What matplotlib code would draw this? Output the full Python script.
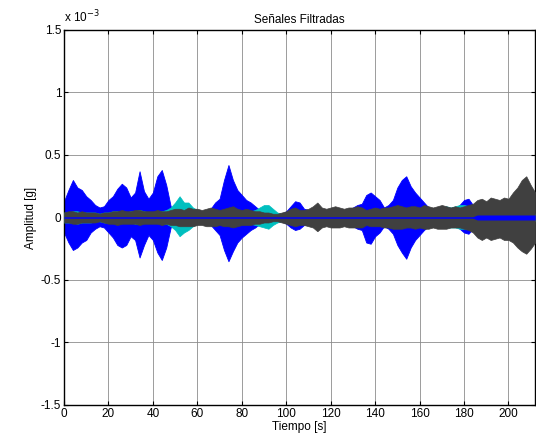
import matplotlib
matplotlib.use("Agg")
import matplotlib.pyplot as plt
import numpy as np

plt.rcParams["font.family"] = ["Liberation Sans", "DejaVu Sans"]

# time grid of the envelope readings [s]
t = np.arange(0, 213, 2)

# envelopes, in units of 1e-3 g
blue_up = [0.13, 0.22, 0.30, 0.24, 0.22, 0.17, 0.14, 0.10, 0.08, 0.09,
           0.14, 0.17, 0.23, 0.27, 0.24, 0.16, 0.20, 0.37, 0.21, 0.15,
           0.20, 0.33, 0.38, 0.26, 0.09, 0.06, 0.07, 0.06, 0.05, 0.06,
           0.05, 0.05, 0.05, 0.07, 0.12, 0.15, 0.30, 0.42, 0.30, 0.22,
           0.18, 0.14, 0.12, 0.09, 0.06, 0.04, 0.03, 0.03, 0.03, 0.03,
           0.05, 0.09, 0.13, 0.12, 0.07, 0.06, 0.05, 0.05, 0.04, 0.05,
           0.06, 0.06, 0.05, 0.05, 0.06, 0.08, 0.10, 0.11, 0.18, 0.20,
           0.17, 0.14, 0.08, 0.10, 0.14, 0.24, 0.30, 0.33, 0.25, 0.20,
           0.16, 0.12, 0.08, 0.07, 0.06, 0.05, 0.08, 0.07, 0.06, 0.10,
           0.14, 0.15, 0.10, 0.02, 0.02, 0.02, 0.02, 0.02, 0.02, 0.02,
           0.02, 0.02, 0.02, 0.02, 0.02, 0.02, 0.02]
blue_lo = [0.12, 0.20, 0.26, 0.24, 0.20, 0.18, 0.12, 0.09, 0.07, 0.08,
           0.12, 0.16, 0.22, 0.24, 0.22, 0.15, 0.18, 0.32, 0.22, 0.14,
           0.18, 0.28, 0.34, 0.24, 0.08, 0.05, 0.06, 0.05, 0.05, 0.05,
           0.04, 0.04, 0.05, 0.06, 0.10, 0.14, 0.26, 0.35, 0.27, 0.20,
           0.16, 0.13, 0.10, 0.08, 0.05, 0.04, 0.03, 0.03, 0.03, 0.03,
           0.05, 0.08, 0.10, 0.09, 0.06, 0.05, 0.05, 0.04, 0.04, 0.04,
           0.05, 0.05, 0.05, 0.05, 0.05, 0.07, 0.09, 0.10, 0.20, 0.21,
           0.15, 0.12, 0.07, 0.09, 0.13, 0.22, 0.28, 0.33, 0.24, 0.18,
           0.14, 0.10, 0.07, 0.06, 0.06, 0.05, 0.07, 0.06, 0.06, 0.09,
           0.12, 0.13, 0.09, 0.02, 0.02, 0.02, 0.02, 0.02, 0.02, 0.02,
           0.02, 0.02, 0.02, 0.02, 0.02, 0.02, 0.02]
cyan_up = [0.04, 0.04, 0.05, 0.05, 0.04, 0.04, 0.04, 0.04, 0.03, 0.04,
           0.04, 0.05, 0.05, 0.04, 0.04, 0.05, 0.05, 0.06, 0.05, 0.04,
           0.04, 0.05, 0.05, 0.06, 0.08, 0.12, 0.17, 0.12, 0.12, 0.08,
           0.06, 0.05, 0.05, 0.05, 0.05, 0.05, 0.06, 0.06, 0.05, 0.05,
           0.05, 0.05, 0.05, 0.06, 0.08, 0.10, 0.10, 0.07, 0.04, 0.03,
           0.04, 0.05, 0.05, 0.05, 0.04, 0.04, 0.04, 0.04, 0.04, 0.04,
           0.04, 0.04, 0.04, 0.04, 0.04, 0.05, 0.05, 0.05, 0.05, 0.06,
           0.05, 0.05, 0.05, 0.05, 0.05, 0.06, 0.06, 0.05, 0.05, 0.05,
           0.06, 0.07, 0.06, 0.05, 0.07, 0.08, 0.09, 0.08, 0.09, 0.10,
           0.10, 0.09, 0.09, 0.08, 0.08, 0.04, 0.03, 0.03, 0.03, 0.03,
           0.03, 0.03, 0.03, 0.03, 0.03, 0.03, 0.03]
cyan_lo = [0.04, 0.04, 0.04, 0.05, 0.04, 0.04, 0.04, 0.03, 0.03, 0.04,
           0.04, 0.04, 0.05, 0.04, 0.04, 0.04, 0.05, 0.05, 0.04, 0.04,
           0.04, 0.04, 0.05, 0.05, 0.07, 0.10, 0.15, 0.12, 0.10, 0.07,
           0.05, 0.05, 0.05, 0.05, 0.04, 0.05, 0.05, 0.05, 0.05, 0.05,
           0.05, 0.05, 0.05, 0.06, 0.07, 0.08, 0.09, 0.06, 0.04, 0.03,
           0.04, 0.04, 0.05, 0.04, 0.04, 0.04, 0.04, 0.04, 0.04, 0.04,
           0.04, 0.04, 0.04, 0.04, 0.04, 0.04, 0.05, 0.05, 0.05, 0.05,
           0.05, 0.05, 0.04, 0.05, 0.05, 0.05, 0.05, 0.05, 0.05, 0.05,
           0.06, 0.07, 0.06, 0.05, 0.06, 0.07, 0.08, 0.08, 0.08, 0.09,
           0.09, 0.09, 0.08, 0.08, 0.07, 0.04, 0.03, 0.03, 0.03, 0.03,
           0.03, 0.03, 0.03, 0.03, 0.03, 0.03, 0.03]
gray_up = [0.04, 0.05, 0.05, 0.04, 0.05, 0.04, 0.04, 0.04, 0.03, 0.04,
           0.04, 0.05, 0.05, 0.06, 0.05, 0.05, 0.06, 0.06, 0.05, 0.05,
           0.05, 0.06, 0.05, 0.05, 0.06, 0.07, 0.07, 0.06, 0.08, 0.07,
           0.07, 0.06, 0.07, 0.08, 0.07, 0.06, 0.07, 0.08, 0.09, 0.07,
           0.06, 0.07, 0.06, 0.05, 0.05, 0.04, 0.04, 0.03, 0.03, 0.04,
           0.05, 0.07, 0.08, 0.06, 0.06, 0.07, 0.09, 0.12, 0.08, 0.07,
           0.08, 0.09, 0.08, 0.07, 0.08, 0.08, 0.09, 0.08, 0.06, 0.07,
           0.08, 0.07, 0.08, 0.08, 0.09, 0.10, 0.09, 0.08, 0.09, 0.09,
           0.08, 0.10, 0.09, 0.08, 0.09, 0.10, 0.09, 0.08, 0.09, 0.08,
           0.09, 0.10, 0.11, 0.14, 0.15, 0.13, 0.16, 0.15, 0.14, 0.16,
           0.15, 0.20, 0.24, 0.30, 0.33, 0.26, 0.20]
gray_lo = [0.04, 0.04, 0.05, 0.05, 0.04, 0.04, 0.04, 0.04, 0.03, 0.04,
           0.05, 0.05, 0.06, 0.05, 0.05, 0.05, 0.05, 0.06, 0.05, 0.05,
           0.05, 0.05, 0.06, 0.05, 0.06, 0.06, 0.07, 0.07, 0.07, 0.07,
           0.06, 0.06, 0.07, 0.07, 0.07, 0.06, 0.07, 0.07, 0.08, 0.07,
           0.06, 0.06, 0.06, 0.05, 0.05, 0.04, 0.04, 0.03, 0.03, 0.04,
           0.05, 0.06, 0.07, 0.06, 0.06, 0.07, 0.08, 0.11, 0.08, 0.07,
           0.08, 0.08, 0.08, 0.07, 0.08, 0.08, 0.08, 0.08, 0.06, 0.07,
           0.07, 0.07, 0.08, 0.08, 0.09, 0.09, 0.09, 0.08, 0.08, 0.09,
           0.08, 0.09, 0.09, 0.08, 0.09, 0.09, 0.09, 0.08, 0.08, 0.08,
           0.09, 0.10, 0.12, 0.16, 0.18, 0.16, 0.18, 0.17, 0.16, 0.18,
           0.18, 0.20, 0.24, 0.27, 0.29, 0.25, 0.20]
# thin residual band drawn on top
center = [0.006] * 93 + [0.02] * 14

yticks = [-1.5, -1, -0.5, 0, 0.5, 1, 1.5]
xticks = list(range(0, 201, 20))

fig = plt.figure(figsize=(5.36, 4.45), dpi=100)
ax = fig.add_axes([0.1194, 0.0899, 0.879, 0.8427])

ax.fill_between(t, -np.array(blue_lo), blue_up, color="#0000ff", lw=0.6, zorder=2)
ax.fill_between(t, -np.array(cyan_lo), cyan_up, color="#00bfbf", lw=0.5, zorder=3)
ax.fill_between(t, -np.array(gray_lo), gray_up, color="#404040", lw=0.5, zorder=4)
ax.fill_between(t, -np.array(center), center, color="#0000ff", lw=0, zorder=5)

ax.set_xlim(0, 212)
ax.set_ylim(-1.5, 1.5)
ax.set_xticks(xticks)
ax.set_yticks(yticks)
ax.set_yticklabels(["-1.5", "-1", "-0.5", "0", "0.5", "1", "1.5"])
ax.tick_params(direction="in", top=True, right=True, labelsize=8.5, length=3, pad=2)
ax.grid(True, color="0.55", lw=0.6, ls="-")
ax.set_axisbelow(True)
for s in ax.spines.values():
    s.set_linewidth(1.0)

ax.set_title("Señales Filtradas", fontsize=8.5, pad=5)
ax.set_xlabel("Tiempo [s]", fontsize=8.5, labelpad=1)
ax.set_ylabel("Amplitud [g]", fontsize=8.5, labelpad=3)
ax.text(0.0, 1.012, "x 10$^{-3}$", transform=ax.transAxes, fontsize=8.5,
        ha="left", va="bottom")

fig.savefig("out.png", dpi=100)
